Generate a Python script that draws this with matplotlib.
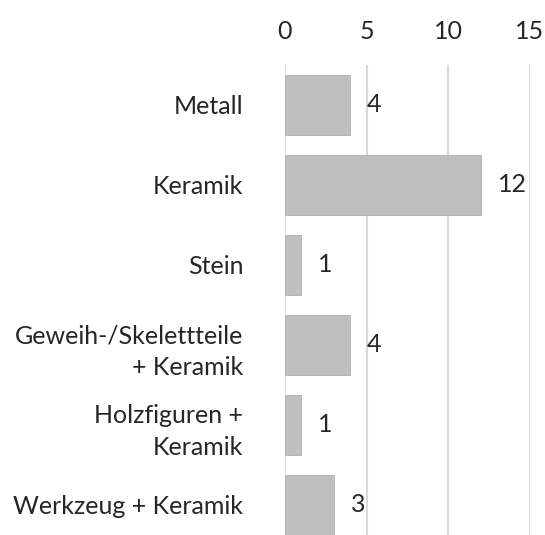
import matplotlib
matplotlib.use("Agg")
import matplotlib.pyplot as plt

categories = ["Metall", "Keramik", "Stein", "Geweih-/Skelettteile\n+ Keramik",
              "Holzfiguren +\nKeramik", "Werkzeug + Keramik"]
values = [4, 12, 1, 4, 1, 3]
ticks = [0, 5, 10, 15]

plt.rcParams['font.family'] = ['Lato', 'DejaVu Sans']

fig = plt.figure(figsize=(5.45, 5.35), dpi=100)
# axes runs past the bottom edge, like the cropped original
ax = fig.add_axes([285/545, (535-545)/535, 245/545, 480/535])

y = list(range(len(categories)))
ax.barh(y, values, height=0.75, color="#bfbfbf", edgecolor="#b0b0b0", linewidth=0.6, zorder=3)
ax.set_ylim(len(categories) - 0.5, -0.5)
ax.set_xlim(0, 15)
ax.set_xticks(ticks)
ax.xaxis.tick_top()
ax.tick_params(axis='x', length=0, pad=16, labelsize=18, colors="#262626")
ax.set_yticks(y)
ax.set_yticklabels(categories, fontsize=18, color="#262626", ha='right',
                   multialignment='right', linespacing=1.45)
ax.tick_params(axis='y', length=0, pad=30)
ax.grid(axis='x', color="#d9d9d9", linewidth=1.5, zorder=0)
for s in ax.spines.values():
    s.set_visible(False)

for yi, v in zip(y, values):
    ax.annotate(str(v), (v, yi), xytext=(12, 0), textcoords='offset points',
                va='center', ha='left', fontsize=18, color="#262626")

fig.savefig("out.png", dpi=100)
